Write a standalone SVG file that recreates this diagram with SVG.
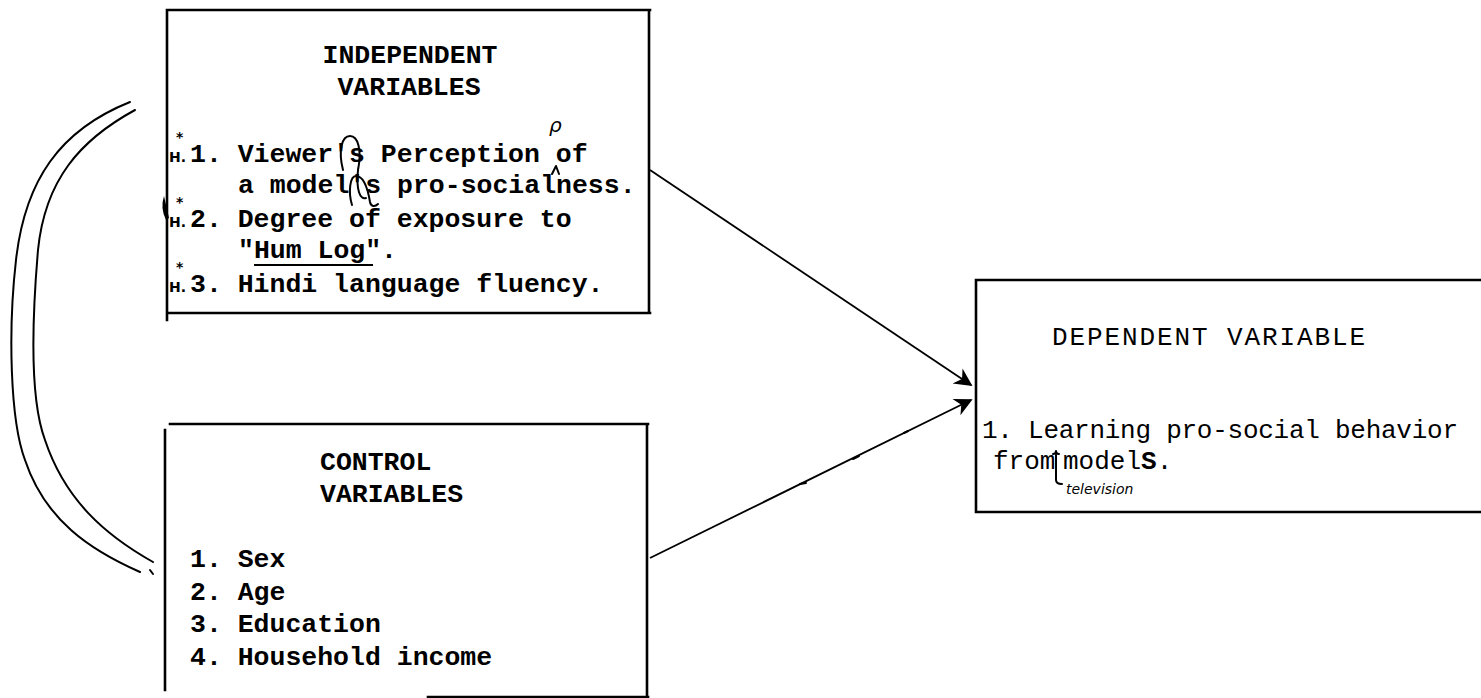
<svg xmlns="http://www.w3.org/2000/svg" width="1481" height="698" viewBox="0 0 1481 698">
<style>
.ln{stroke:#000;stroke-width:2.6;fill:none;stroke-linecap:square}
.cn{stroke:#000;stroke-width:1.8;fill:none}
.hw{stroke:#000;stroke-width:2;fill:none;stroke-linecap:round;stroke-linejoin:round}
.t{font-family:"Liberation Mono","DejaVu Sans Mono",monospace;font-size:26.5px;font-weight:bold;fill:#000}
.tn{font-family:"Liberation Mono","DejaVu Sans Mono",monospace;font-size:26px;fill:#000}
.h{font-family:"DejaVu Sans","Liberation Sans",sans-serif;font-size:14px;font-weight:bold;fill:#000}
.hand{font-family:"DejaVu Sans","Liberation Sans",sans-serif;font-style:italic;fill:#000}
</style>
<defs>
<marker id="ah2" viewBox="0 0 10 10" refX="9" refY="5" markerWidth="22" markerHeight="18" markerUnits="userSpaceOnUse" orient="auto">
<path d="M0,0 L10,5 L0,10 L3,5 Z" fill="#000"/>
</marker>
</defs>
<rect width="1481" height="698" fill="#fff"/>

<g id="connectors">
<path class="cn" d="M650,170 L971,385" marker-end="url(#ah2)"/>
<path class="cn" d="M650,558 L971,400" marker-end="url(#ah2)"/>
<path class="hw" d="M800,484 l6,-1 M853,459 l6,-3 M904,433 l4,-2"/>
<path class="hw" d="M130,102 C60,130 25,180 16,260 C8,330 10,420 25,460 C45,520 90,550 140,572"/>
<path class="hw" d="M135,110 C80,140 45,180 38,250 C32,320 30,400 45,440 C65,500 105,535 153,562"/>
</g>

<g id="independent">
<path class="ln" d="M168,10 L650,10 M649,10 L649,313 M168,313 L650,313 M167,10 L167,320"/>
<path d="M164,196 q-4,12 2,24 l3,-2 z" fill="#000"/>
<text class="t" x="410" y="63" text-anchor="middle">INDEPENDENT</text>
<text class="t" x="409" y="95" text-anchor="middle">VARIABLES</text>
<text class="t" x="190" y="162">1. Viewer's Perception of</text>
<text class="t" x="238" y="193">a model's pro-socialness.</text>
<text class="t" x="190" y="227">2. Degree of exposure to</text>
<text class="t" x="238" y="258">"Hum Log".</text>
<text class="t" x="190" y="292">3. Hindi language fluency.</text>
<path class="ln" d="M255,265 L372,265" style="stroke-width:2"/>
<text class="h" x="169" y="162">H.</text>
<text class="h" x="176" y="142">*</text>
<text class="h" x="169" y="227">H.</text>
<text class="h" x="176" y="207">*</text>
<text class="h" x="169" y="292">H.</text>
<text class="h" x="176" y="272">*</text>
<path class="hw" d="M343,170 C338,150 342,136 350,136 C358,136 362,150 358,170 C356,190 360,200 366,198"/>
<path class="hw" d="M352,205 C348,192 350,176 356,176 C364,176 368,190 370,202 C371,207 375,207 378,204"/>
<path class="hw" d="M552,174 L556,166 L559,174"/>
<text class="hand" x="549" y="132" font-size="20">ρ</text>
</g>

<g id="control">
<path class="ln" d="M170,424 L648,424 M647,424 L647,698 M428,697 L648,697 M165,430 L165,690"/>
<path class="hw" d="M150,570 l3,4"/>
<text class="t" x="320" y="470">CONTROL</text>
<text class="t" x="320" y="502">VARIABLES</text>
<text class="t" x="190" y="567">1. Sex</text>
<text class="t" x="190" y="600">2. Age</text>
<text class="t" x="190" y="632">3. Education</text>
<text class="t" x="190" y="665">4. Household income</text>
</g>

<g id="dependent">
<path class="ln" d="M976,280 L1481,280 M976,280 L976,512 M976,512 L1481,512"/>
<text class="tn" x="1052" y="345" textLength="313" lengthAdjust="spacing">DEPENDENT VARIABLE</text>
<text class="tn" x="982" y="438" textLength="476" lengthAdjust="spacing">1. Learning pro-social behavior</text>
<text class="tn" x="993" y="469">from</text>
<text class="tn" x="1063" y="469">model<tspan font-weight="bold">S</tspan>.</text>
<path class="hw" d="M1053,454 q3,0 3,-3 q0,3 3,3 M1056,455 L1056,480 q0,4 6,4"/>
<text class="hand" x="1066" y="494" font-size="14">television</text>
</g>
</svg>
